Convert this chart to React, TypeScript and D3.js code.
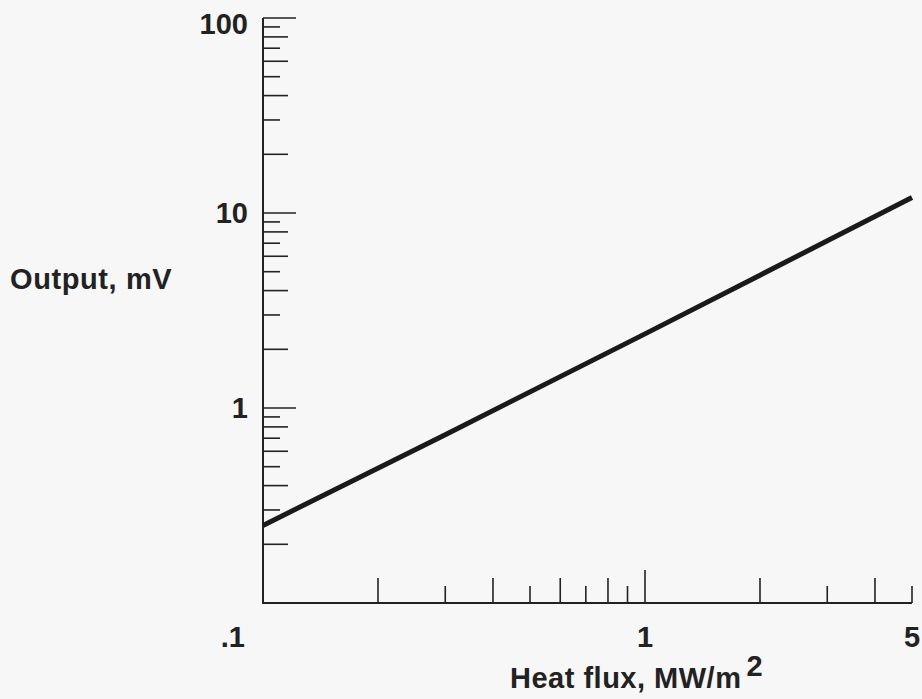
import { useEffect, useRef } from "react";
import * as d3 from "d3";

// Sensor response (log-log)
const heatFlux = [0.1, 0.3, 1, 2, 5];
const outputMv = [0.25, 0.73, 2.4, 4.8, 12];

const xTicks = [0.2, 0.3, 0.4, 0.5, 0.6, 0.7, 0.8, 0.9, 1, 2, 3, 4, 5];
const yTicks = [
  0.2, 0.3, 0.4, 0.5, 0.6, 0.7, 0.8, 0.9, 1,
  2, 3, 4, 5, 6, 7, 8, 9, 10,
  20, 30, 40, 50, 60, 70, 80, 90, 100,
];
const xLabels = [
  { v: 0.1, text: ".1" },
  { v: 1, text: "1" },
  { v: 5, text: "5" },
];
const yLabels = [
  { v: 1, text: "1" },
  { v: 10, text: "10" },
  { v: 100, text: "100" },
];

export default function App() {
  const svgRef = useRef<SVGSVGElement>(null);

  useEffect(() => {
    if (!svgRef.current) return;
    const svg = d3.select(svgRef.current);
    svg.selectAll("*").remove();

    const width = 922;
    const height = 699;
    const ink = "#222";
    const font = "'Liberation Sans', Arial, Helvetica, sans-serif";

    svg.attr("width", width).attr("height", height);

    svg
      .append("rect")
      .attr("width", width)
      .attr("height", height)
      .attr("fill", "#f7f7f7");

    const x = d3.scaleLog().domain([0.1, 5]).range([263, 912]);
    const y = d3.scaleLog().domain([0.1, 100]).range([603, 18]);

    // tick length: decades longest, even digits long, odd digits short
    const tickLen = (v: number) => {
      const lg = Math.log10(v);
      if (Math.abs(lg - Math.round(lg)) < 1e-9) return 33;
      const lead = Math.round(v / Math.pow(10, Math.floor(lg + 1e-9)));
      return lead % 2 === 0 ? 25 : 17;
    };

    // Axis lines
    svg
      .append("line")
      .attr("x1", x(0.1))
      .attr("x2", x(0.1))
      .attr("y1", y(100))
      .attr("y2", y(0.1))
      .attr("stroke", ink)
      .attr("stroke-width", 2);
    svg
      .append("line")
      .attr("x1", x(0.1) - 1)
      .attr("x2", x(5))
      .attr("y1", y(0.1))
      .attr("y2", y(0.1))
      .attr("stroke", ink)
      .attr("stroke-width", 2);

    // X ticks (pointing up)
    svg
      .selectAll("line.xtick")
      .data(xTicks)
      .enter()
      .append("line")
      .attr("class", "xtick")
      .attr("x1", (d) => x(d))
      .attr("x2", (d) => x(d))
      .attr("y1", y(0.1))
      .attr("y2", (d) => y(0.1) - tickLen(d))
      .attr("stroke", ink)
      .attr("stroke-width", 1.6);

    // Y ticks (pointing right)
    svg
      .selectAll("line.ytick")
      .data(yTicks)
      .enter()
      .append("line")
      .attr("class", "ytick")
      .attr("x1", x(0.1))
      .attr("x2", (d) => x(0.1) + tickLen(d))
      .attr("y1", (d) => y(d))
      .attr("y2", (d) => y(d))
      .attr("stroke", ink)
      .attr("stroke-width", 1.6);

    // Tick labels
    svg
      .selectAll("text.xlab")
      .data(xLabels)
      .enter()
      .append("text")
      .attr("class", "xlab")
      .attr("x", (d) => (d.v === 0.1 ? x(d.v) - 18 : x(d.v)))
      .attr("y", y(0.1) + 44)
      .attr("text-anchor", (d) => (d.v === 0.1 ? "end" : "middle"))
      .attr("fill", ink)
      .attr("font-family", font)
      .attr("font-weight", "bold")
      .attr("font-size", "29px")
      .text((d) => d.text);

    svg
      .selectAll("text.ylab")
      .data(yLabels)
      .enter()
      .append("text")
      .attr("class", "ylab")
      .attr("x", x(0.1) - 15)
      .attr("y", (d) => y(d.v) + (d.v === 100 ? 16 : 10))
      .attr("text-anchor", "end")
      .attr("fill", ink)
      .attr("font-family", font)
      .attr("font-weight", "bold")
      .attr("font-size", "29px")
      .text((d) => d.text);

    // Axis titles
    svg
      .append("text")
      .attr("x", 10)
      .attr("y", 289)
      .attr("fill", ink)
      .attr("font-family", font)
      .attr("font-weight", "bold")
      .attr("font-size", "29px")
      .attr("letter-spacing", "0.6px")
      .text("Output, mV");

    const xt = svg
      .append("text")
      .attr("x", 510)
      .attr("y", 688)
      .attr("fill", ink)
      .attr("font-family", font)
      .attr("font-weight", "bold")
      .attr("font-size", "29px")
      .attr("letter-spacing", "0.5px")
      .text("Heat flux, MW/m");
    xt.append("tspan")
      .attr("dx", 5)
      .attr("dy", -12)
      .text("2");

    // Response line
    const line = d3
      .line<number>()
      .x((d) => x(d))
      .y((_, i) => y(outputMv[i]));

    svg
      .append("path")
      .datum(heatFlux)
      .attr("d", line)
      .attr("fill", "none")
      .attr("stroke", "#1a1a1a")
      .attr("stroke-width", 5);
  }, []);

  return (
    <svg
      ref={svgRef}
      style={{ position: "absolute", left: 0, top: 0, display: "block" }}
    ></svg>
  );
}
